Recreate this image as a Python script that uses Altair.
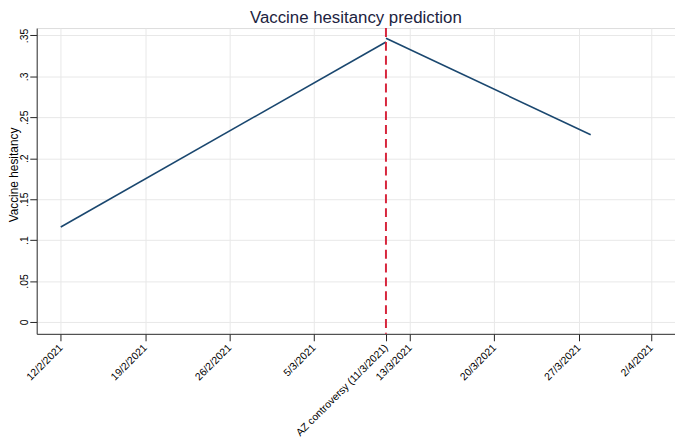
import altair as alt
import pandas as pd
from datetime import datetime, timezone

# ---- data ----
seg_dates = ["2021-02-12", "2021-03-11", "2021-03-11", "2021-03-28"]
seg_values = [0.116, 0.342, 0.3465, 0.2287]
seg_period = ["pre", "pre", "post", "post"]

tick_dates = ["2021-02-12", "2021-02-19", "2021-02-26", "2021-03-05", "2021-03-11",
              "2021-03-13", "2021-03-20", "2021-03-27", "2021-04-02"]
event_date = "2021-03-11"
event_label = "AZ controversy (11/3/2021)"
y_ticks = [0, 0.05, 0.1, 0.15, 0.2, 0.25, 0.3, 0.35]
x_domain = ["2021-02-10", "2021-04-04"]
y_domain = [-0.0145, 0.359]


def dt(s):
    y, m, d = (int(p) for p in s.split("-"))
    return alt.DateTime(year=y, month=m, date=d, utc=True)


def ms(s):
    y, m, d = (int(p) for p in s.split("-"))
    return int(datetime(y, m, d, tzinfo=timezone.utc).timestamp() * 1000)


az_ms = ms(event_date)

df = pd.DataFrame({"date": seg_dates, "value": seg_values, "period": seg_period})
ev = pd.DataFrame({"date": [event_date]})

FONT = "Liberation Sans"

x_enc = alt.X(
    "date:T",
    title=None,
    scale=alt.Scale(type="utc", domain=[dt(x_domain[0]), dt(x_domain[1])], nice=False),
    axis=alt.Axis(
        values=[dt(s) for s in tick_dates],
        labelExpr=f"datum.value == {az_ms} ? '{event_label}' : utcFormat(datum.value, '%-d/%-m/%Y')",
        labelAngle=315,
        labelAlign="right",
        labelBaseline="middle",
        labelPadding=5,
        labelFontSize=10.5,
        labelColor="#000000",
        labelFont=FONT,
        labelOverlap=False,
        labelBound=False,
        labelFlush=False,
        tickSize=7,
        tickColor="#222222",
        domainColor="#333333",
        grid=True,
        gridColor="#e8e8e8",
        gridOpacity={"condition": {"test": f"datum.value == {az_ms}", "value": 0}, "value": 1},
    ),
)

y_enc = alt.Y(
    "value:Q",
    title="Vaccine hesitancy",
    scale=alt.Scale(domain=y_domain, nice=False, zero=False),
    axis=alt.Axis(
        values=y_ticks,
        labelExpr="datum.value == 0 ? '0' : replace(format(datum.value, '~g'), '0.', '.')",
        labelAngle=270,
        labelAlign="center",
        labelBaseline="alphabetic",
        labelPadding=2,
        labelFontSize=10.5,
        labelColor="#000000",
        labelFont=FONT,
        tickSize=7,
        tickColor="#222222",
        domainColor="#333333",
        grid=True,
        gridColor="#e8e8e8",
        titleFont=FONT,
        titleFontSize=12,
        titleFontWeight="normal",
        titleColor="#000000",
        titleAngle=270,
        titleAlign="center",
        titleBaseline="alphabetic",
        titleX=-19.5,
        titleY=148,
    ),
)

line = alt.Chart(df).mark_line(color="#1a476f", strokeWidth=1.6).encode(
    x=x_enc, y=y_enc, detail="period:N"
)

rule = alt.Chart(ev).mark_rule(color="#d7263d", strokeWidth=2, strokeDash=[9, 5]).encode(
    x=x_enc
)

chart = (
    alt.layer(line, rule)
    .properties(
        width=645,
        height=309,
        autosize=alt.AutoSizeParams(type="none"),
        padding={"left": 29, "top": 18, "right": 0, "bottom": 105},
        title=alt.TitleParams(
            "Vaccine hesitancy prediction",
            font=FONT,
            fontSize=17,
            fontWeight="normal",
            color="#1c2340",
            anchor="middle",
            baseline="alphabetic",
            offset=0,
            dy=12.5,
            frame="group",
        ),
    )
    .configure_view(stroke=None)
    .configure(background="white")
)

chart.save("out.html", embed_options={"renderer": "svg", "actions": False})
